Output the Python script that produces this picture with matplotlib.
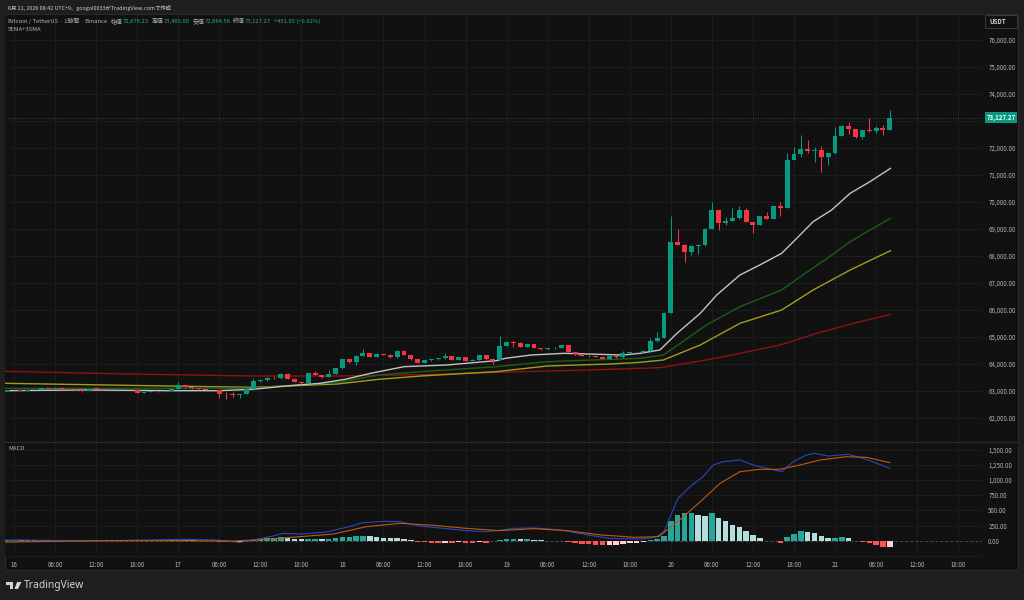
import numpy as np
import matplotlib
matplotlib.use('Agg')
import matplotlib.pyplot as plt
from matplotlib.patches import Rectangle, Polygon

plt.rcParams['font.family'] = ['Noto Sans CJK JP', 'DejaVu Sans']

# ---- data (hour index: 0 = 16th 00:00, 1 step = 1 hour) ----
first_open = 63012
closes = [63037, 63025, 63012, 63020, 63030, 63099, 63074, 63123, 63086, 63055,
          63040, 63005, 63080, 63075, 63030, 63035, 63025, 63030, 63040, 62938,
          62960, 62990, 62985, 63010, 63086, 63210, 63136, 63100, 63062, 63040,
          63030, 62889, 62880, 62870, 62895, 63062, 63370, 63390, 63494, 63481,
          63642, 63457, 63346, 63284, 63654, 63593, 63506, 63642, 63852, 64173,
          64062, 64309, 64395, 64272, 64358, 64350, 64247, 64494, 64346, 64173,
          64049, 64148, 64185, 64210, 64284, 64161, 64247, 64111, 64160, 64321,
          64173, 64140, 64667, 64815, 64770, 64642, 64741, 64593, 64543, 64580,
          64605, 64704, 64444, 64358, 64309, 64284, 64265, 64198, 64296, 64247,
          64407, 64430, 64444, 64494, 64852, 64975, 65901, 68531, 68407, 68160,
          68382, 68407, 69012, 69691, 69234, 69296, 69395, 69691, 69259, 69160,
          69469, 69370, 69839, 69790, 71556, 71765, 71975, 71901, 71925, 71654,
          71802, 72457, 72827, 72704, 72395, 72667, 72642, 72728, 72676.23, 73127.27]
highs = [63050, 63045, 63030, 63035, 63045, 63110, 63105, 63135, 63130, 63090,
         63060, 63045, 63090, 63090, 63085, 63050, 63045, 63040, 63055, 63045,
         62970, 63000, 63000, 63020, 63095, 63321, 63220, 63145, 63110, 63070,
         63050, 63040, 62950, 62960, 62905, 63075, 63469, 63420, 63510, 63568,
         63660, 63650, 63465, 63350, 63665, 63741, 63610, 63766, 63870, 64185,
         64185, 64320, 64556, 64400, 64395, 64370, 64360, 64505, 64500, 64350,
         64180, 64160, 64200, 64230, 64395, 64290, 64260, 64255, 64175, 64330,
         64330, 64235, 65037, 64830, 64864, 64802, 64750, 64750, 64605, 64590,
         64615, 64715, 64710, 64450, 64370, 64320, 64290, 64270, 64310, 64321,
         64469, 64440, 64460, 64500, 64950, 65173, 65920, 69481, 68988, 68444,
         68400, 68440, 69030, 69988, 69691, 69432, 69765, 69864, 69790, 69270,
         69480, 69617, 69850, 70012, 71803, 72049, 72481, 72296, 72049, 72086,
         71810, 72790, 72852, 72950, 72710, 72680, 73123, 72815, 72852, 73400.00]
lows = [63000, 63005, 63000, 63005, 63015, 63020, 63065, 63070, 63075, 63045,
        63030, 62965, 63000, 63060, 63020, 63020, 63015, 63015, 63030, 62930,
        62930, 62950, 62970, 62975, 63000, 63080, 63125, 63090, 63050, 63025,
        63010, 62728, 62691, 62790, 62728, 62880, 63050, 63350, 63370, 63432,
        63457, 63440, 63330, 63270, 63270, 63580, 63490, 63500, 63620, 63830,
        64050, 63963, 64290, 64260, 64247, 64335, 64235, 64240, 64335, 64160,
        64035, 64040, 64124, 64161, 64185, 64150, 64148, 64100, 64105, 64148,
        64160, 63988, 64130, 64660, 64642, 64630, 64630, 64580, 64530, 64535,
        64570, 64600, 64430, 64345, 64300, 64270, 64255, 64185, 64190, 64235,
        64240, 64400, 64420, 64395, 64456, 64827, 64950, 65880, 68390, 67790,
        68037, 68074, 68382, 69000, 68963, 69148, 69290, 69383, 69250, 68864,
        69150, 69360, 69360, 69494, 69780, 71540, 71680, 71800, 71494, 71123,
        71370, 71790, 72440, 72518, 72380, 72333, 72580, 72543, 72482, 72664.56]
hours = list(range(-1, len(closes) - 1))

# moving average lines, read at points along each line
ma_white_h = [-1.3, 10, 22.6, 29.9, 34.9, 39.8, 44.7, 48.4, 52.1, 57, 63.2, 70.5, 71.8, 75.6,
              80.4, 89, 91.5, 94.4, 96.9, 100.3, 102.7, 106.1, 109, 112.2, 114.4, 116.8, 119.5,
              122.2, 125.1, 128.1]
ma_white_v = [63012, 63037, 63012, 63012, 63062, 63185, 63284, 63432, 63654, 63901, 63963,
              64123, 64210, 64333, 64395, 64333, 64395, 64519, 65136, 65876, 66555, 67296,
              67667, 68099, 68654, 69271, 69704, 70321, 70753, 71247]
ma_green_h = [-1.3, 34.9, 41, 47.2, 53.3, 59.5, 70.5, 77.9, 87.2, 91.5, 94.9, 97.4, 101.2,
              106.1, 112.2, 116, 119.2, 122.2, 125.1, 128.1]
ma_green_v = [63100, 63099, 63222, 63309, 63593, 63716, 63901, 64086, 64173, 64210, 64333,
              64765, 65444, 66123, 66741, 67420, 67975, 68531, 68963, 69395]
ma_yellow_h = [-1.3, 22.6, 34.9, 47.2, 53.3, 59.5, 70.5, 77.9, 87.2, 91.5, 94.9, 100.3, 106.1,
               112.2, 116.8, 122.2, 128.1]
ma_yellow_v = [63284, 63185, 63136, 63259, 63432, 63556, 63716, 63926, 64000, 64062, 64148,
               64704, 65506, 66000, 66741, 67481, 68197]
ma_red_h = [-1.3, 16.4, 34.9, 47.2, 59.5, 70.5, 84.1, 94.4, 101.2, 106.1, 112, 117.3, 122.7, 128.1]
ma_red_v = [63728, 63630, 63556, 63556, 63605, 63691, 63778, 63864, 64148, 64395, 64704,
            65136, 65506, 65839]

# MACD histogram, one value per candle
macd_hist = [10, 12, 8, 6, 5, 9, 8, 10, 6, 3, 2, -3, 4, 5, 2, 1, -1, 0, 1, -6,
             -5, -3, -2, 0, 4, 10, 8, 5, 2, -3, -8, -16, -22, -25, -22, -10, 12, 28, 39, 45,
             56, 50, 34, 23, 28, 34, 28, 34, 45, 56, 67, 72, 83, 72, 61, 50, 45, 39, 30, 12,
             -17, -28, -34, -39, -34, -39, -28, -34, -39, -28, -34, -12, 12, 28, 30, 23, 28, 17, 6, -6,
             -8, -12, -23, -45, -56, -61, -72, -78, -72, -67, -50, -45, -34, -28, 12, 34, 78, 319, 424, 451,
             456, 424, 413, 451, 380, 325, 265, 232, 160, 89, 50, -6, -12, -34, 61, 116, 155, 144, 127, 78,
             45, 50, 56, 39, 2, -28, -39, -67, -111, -105]
macd_h = [-1.3, 13, 25, 29.6, 33, 35, 37, 39.4, 41.8, 45.7, 48.6, 51, 54, 56.4, 59.3, 63.2, 66.1,
          69, 71, 73, 76, 80, 84, 87, 91.5, 93, 94, 95, 96, 97, 98.8, 100.7, 102.2, 103.6, 106.1,
          108, 110, 112.2, 113.9, 115.8, 117, 119, 121.9, 124.1, 126.1, 128]
macd_v = [12, 0, 23, 12, -28, 12, 56, 122, 111, 144, 221, 298, 319, 314, 243, 199, 166,
          150, 170, 204, 210, 177, 94, 39, 28, 45, 70, 150, 420, 690, 890, 1055, 1247, 1302, 1330,
          1247, 1192, 1137, 1302, 1412, 1439, 1395, 1423, 1357, 1275, 1192]
signal_h = [-1.3, 13, 25, 32, 37, 41.8, 46.7, 51.5, 56.4, 61.3, 66.1, 71, 76, 80.8, 85.9, 90.8,
            94.2, 97.3, 100.3, 103.2, 106.1, 109, 111.9, 114.9, 117.8, 121.7, 124.6, 128]
signal_v = [-23, 0, 0, -6, 23, 67, 111, 232, 287, 254, 204, 166, 199, 166, 94, 56,
            67, 341, 643, 945, 1137, 1176, 1176, 1247, 1330, 1384, 1373, 1286]

tick_hours = [0, 6, 12, 18, 24, 30, 36, 42, 48, 54, 60, 66, 72, 78, 84, 90, 96, 102, 108,
              114, 120, 126, 132, 138]
tick_labels = ['16', '06:00', '12:00', '18:00', '17', '06:00', '12:00', '18:00', '18', '06:00',
               '12:00', '18:00', '19', '06:00', '12:00', '18:00', '20', '06:00', '12:00', '18:00',
               '21', '06:00', '12:00', '18:00']
price_ticks = list(range(62000, 76001, 1000))
macd_ticks = [0, 250, 500, 750, 1000, 1250, 1500]
last_price = 73127.27

# ---- figure ----
W, H = 1024, 600
fig = plt.figure(figsize=(W / 100, H / 100), dpi=100)
fig.patch.set_facecolor('#1e1e1e')


def fx(x):
    return x / W


def fy(y):
    return 1 - y / H


bg = '#111111'
gridc = '#1c1c1c'
up = '#089981'
down = '#f23645'
txt = '#b2b5be'

fig.patches.append(Rectangle((fx(5), fy(570)), fx(1018) - fx(5), fy(14) - fy(570),
                             transform=fig.transFigure, facecolor=bg, edgecolor='#2b2b2b',
                             lw=0.8, zorder=-5))

ax = fig.add_axes([fx(5), fy(441), fx(982) - fx(5), fy(15) - fy(441)])
ax2 = fig.add_axes([fx(5), fy(555), fx(982) - fx(5), fy(442) - fy(555)])

for a in (ax, ax2):
    a.set_facecolor(bg)
    for s in a.spines.values():
        s.set_visible(False)
    a.set_xlim(-1.315, 141.48)
    a.set_xticks(tick_hours)
    a.grid(True, color=gridc, lw=0.8)
    a.set_axisbelow(True)
    a.yaxis.tick_right()
    a.tick_params(length=0, labelsize=4.4, labelcolor=txt, pad=4.5)

ax.set_xticklabels([])
ax2.set_xticklabels(tick_labels)

# candles
opens = [first_open] + closes[:-1]
cols = [up if c >= o else down for o, c in zip(opens, closes)]
bottoms = [min(o, c) for o, c in zip(opens, closes)]
heights = [max(abs(c - o), 18) for o, c in zip(opens, closes)]
ax.vlines(hours, lows, highs, colors=cols, lw=0.75, zorder=3)
ax.bar(hours, heights, bottom=bottoms, width=0.72, color=cols, lw=0, zorder=4)

# moving averages
ax.plot(ma_red_h, ma_red_v, color='#8e1212', lw=1.0, zorder=2)
ax.plot(ma_yellow_h, ma_yellow_v, color='#a39d1c', lw=1.0, zorder=2)
ax.plot(ma_green_h, ma_green_v, color='#1b5e1b', lw=1.0, zorder=2)
ax.plot(ma_white_h, ma_white_v, color='#c4c4c4', lw=1.0, zorder=2)

ax.set_ylim(61148, 76926)
ax.set_yticks(price_ticks)
# the 73,000 label sits under the last-price tag
ax.set_yticklabels(['' if v == 73000 else f'{v:,.2f}' for v in price_ticks])

ax.axhline(last_price, color=up, lw=0.6, ls=(0, (1, 2)), alpha=0.7, zorder=1)
ax.annotate(f'{last_price:,.2f}', xy=(1.0, last_price), xycoords=('axes fraction', 'data'),
            xytext=(4.5, 0), textcoords='offset pixels', va='center', ha='left',
            fontsize=4.4, color='white', fontweight='bold', annotation_clip=False,
            bbox=dict(boxstyle='square,pad=0.3', fc=up, ec='none'))

# MACD
hcols = []
for i, v in enumerate(macd_hist):
    prev = macd_hist[i - 1] if i > 0 else 0
    if v >= 0:
        hcols.append('#26a69a' if v >= prev else '#b2dfdb')
    else:
        hcols.append('#ffcdd2' if v > prev else '#ff5252')
ax2.bar(hours, macd_hist, width=0.8, color=hcols, lw=0, zorder=2)
ax2.plot(macd_h, macd_v, color='#2848c0', lw=0.8, zorder=3)
ax2.plot(signal_h, signal_v, color='#c25a0e', lw=0.8, zorder=3)
ax2.axhline(0, color='#555555', lw=0.6, ls=(0, (3, 3)), zorder=1)
ax2.set_ylim(-235, 1626)
ax2.set_yticks(macd_ticks)
ax2.set_yticklabels([f'{v:,.2f}' for v in macd_ticks])
ax2.tick_params(axis='x', pad=4)

# pane separator
fig.add_artist(plt.Line2D([fx(5), fx(1018)], [fy(441.5), fy(441.5)], transform=fig.transFigure,
                          color='#2b2b2b', lw=0.9))
fig.add_artist(plt.Line2D([fx(5), fx(982)], [fy(555.5), fy(555.5)], transform=fig.transFigure,
                          color='#1c1c1c', lw=0.8))

# texts
fig.text(fx(8), fy(8), '8月 21, 2026 08:42 UTC+9、googol0033がTradingView.comで作成',
         fontsize=3.9, color='#d1d4dc', va='center', ha='left')

renderer = fig.canvas.get_renderer()
teal = '#22ab94'
parts = [('Bitcoin / TetherUS · 1時間 · Binance', txt, 4), ('始値', txt, 0), ('72,676.23', teal, 3),
         ('高値', txt, 0), ('73,400.00', teal, 3), ('安値', txt, 0), ('72,664.56', teal, 3),
         ('終値', txt, 0), ('73,127.27', teal, 3), ('+451.05 (+0.62%)', teal, 0)]
x = 8
for s, c, gap in parts:
    t = fig.text(fx(x), fy(21), s, fontsize=4.25, color=c, va='center', ha='left')
    x += t.get_window_extent(renderer).width + gap
fig.text(fx(8), fy(29.5), '5EMA+3SMA', fontsize=4.25, color=txt, va='center', ha='left')
fig.text(fx(8), fy(449), 'MACD', fontsize=4.25, color=txt, va='center', ha='left')

# currency box
fig.patches.append(Rectangle((fx(985), fy(28)), fx(1017) - fx(985), fy(15) - fy(28),
                             transform=fig.transFigure, facecolor=bg, edgecolor='#3a3a3a', lw=0.7))
fig.text(fx(989), fy(21.5), 'USDT', fontsize=4.4, color='#d1d4dc', va='center', ha='left',
         fontweight='bold')

# logo
fig.patches.append(Rectangle((fx(6), fy(585)), fx(7), fy(582) - fy(585), transform=fig.transFigure,
                             facecolor='#d1d4dc', lw=0))
fig.patches.append(Rectangle((fx(10), fy(589)), fx(3), fy(582) - fy(589), transform=fig.transFigure,
                             facecolor='#d1d4dc', lw=0))
fig.patches.append(Polygon([(fx(17), fy(582)), (fx(21.5), fy(582)), (fx(18), fy(589)), (fx(14.5), fy(589))],
                           closed=True, transform=fig.transFigure, facecolor='#d1d4dc', lw=0))
fig.text(fx(24), fy(585.5), 'TradingView', fontsize=7.4, color='#d1d4dc', va='center', ha='left',
         family=['Noto Sans', 'DejaVu Sans'], fontweight='semibold')

fig.savefig('out.png', dpi=100, facecolor=fig.get_facecolor())
